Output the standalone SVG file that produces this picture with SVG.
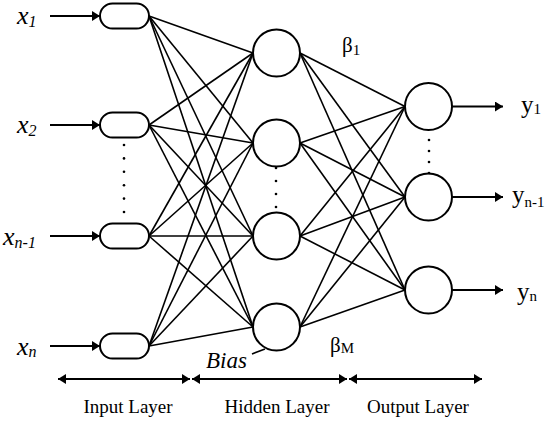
<svg xmlns="http://www.w3.org/2000/svg" width="550" height="421" viewBox="0 0 550 421">
<style>
.node{fill:#fff;stroke:#000;stroke-width:2}
.con line{stroke:#000;stroke-width:1.6}
.arr{stroke:#000;stroke-width:1.8;fill:none}
text{font-family:"Liberation Serif","Times New Roman",Times,serif;fill:#000}
.xl{font-style:italic;font-size:26px}
.xs{font-size:16px}
.yl{font-size:25px}
.ys{font-size:15px}
.bl{font-size:21px}
.lay{font-size:19px;text-anchor:middle}
.dot{fill:#000}
</style>
<defs>
<marker id="ah" viewBox="0 0 8 10" refX="8" refY="5" markerWidth="8" markerHeight="10" markerUnits="userSpaceOnUse" orient="auto-start-reverse">
<path d="M0,0 L8,5 L0,10 z" fill="#000"/>
</marker>
</defs>
<g id="connectors" class="con">
<line x1="149" y1="16" x2="253" y2="53"/><line x1="149" y1="16" x2="253" y2="143"/><line x1="149" y1="16" x2="253" y2="236"/><line x1="149" y1="16" x2="253" y2="327"/>
<line x1="149" y1="125" x2="253" y2="53"/><line x1="149" y1="125" x2="253" y2="143"/><line x1="149" y1="125" x2="253" y2="236"/><line x1="149" y1="125" x2="253" y2="327"/>
<line x1="149" y1="236" x2="253" y2="53"/><line x1="149" y1="236" x2="253" y2="143"/><line x1="149" y1="236" x2="253" y2="236"/><line x1="149" y1="236" x2="253" y2="327"/>
<line x1="149" y1="346" x2="253" y2="53"/><line x1="149" y1="346" x2="253" y2="143"/><line x1="149" y1="346" x2="253" y2="236"/><line x1="149" y1="346" x2="253" y2="327"/>
<line x1="300" y1="53" x2="405" y2="106.5"/><line x1="300" y1="53" x2="405" y2="197"/><line x1="300" y1="53" x2="405" y2="290"/>
<line x1="300" y1="143" x2="405" y2="106.5"/><line x1="300" y1="143" x2="405" y2="197"/><line x1="300" y1="143" x2="405" y2="290"/>
<line x1="300" y1="236" x2="405" y2="106.5"/><line x1="300" y1="236" x2="405" y2="197"/><line x1="300" y1="236" x2="405" y2="290"/>
<line x1="300" y1="327" x2="405" y2="106.5"/><line x1="300" y1="327" x2="405" y2="197"/><line x1="300" y1="327" x2="405" y2="290"/>
<line x1="252" y1="354" x2="265" y2="349"/>
</g>
<g id="arrows">
<line class="arr" x1="50" y1="16" x2="100" y2="16" marker-end="url(#ah)"/>
<line class="arr" x1="50" y1="125" x2="100" y2="125" marker-end="url(#ah)"/>
<line class="arr" x1="50" y1="236" x2="100" y2="236" marker-end="url(#ah)"/>
<line class="arr" x1="50" y1="346" x2="100" y2="346" marker-end="url(#ah)"/>
<line class="arr" x1="452" y1="106.5" x2="503" y2="106.5" marker-end="url(#ah)"/>
<line class="arr" x1="452" y1="197" x2="503" y2="197" marker-end="url(#ah)"/>
<line class="arr" x1="452" y1="290" x2="503" y2="290" marker-end="url(#ah)"/>
<line class="arr" x1="58" y1="379" x2="190" y2="379" marker-start="url(#ah)" marker-end="url(#ah)"/>
<line class="arr" x1="192" y1="379" x2="347" y2="379" marker-start="url(#ah)" marker-end="url(#ah)"/>
<line class="arr" x1="349" y1="379" x2="482" y2="379" marker-start="url(#ah)" marker-end="url(#ah)"/>
</g>
<g id="in1"><rect class="node" x="100" y="3.5" width="49" height="25" rx="12.5"/></g>
<g id="in2"><rect class="node" x="100" y="112.5" width="49" height="25" rx="12.5"/></g>
<g id="in3"><rect class="node" x="100" y="223.5" width="49" height="25" rx="12.5"/></g>
<g id="in4"><rect class="node" x="100" y="333.5" width="49" height="25" rx="12.5"/></g>
<g id="h1"><circle class="node" cx="276.5" cy="53" r="23.5"/></g>
<g id="h2"><circle class="node" cx="276.5" cy="143" r="23.5"/></g>
<g id="h3"><circle class="node" cx="276.5" cy="236" r="23.5"/></g>
<g id="h4"><circle class="node" cx="276.5" cy="327" r="23.5"/></g>
<g id="o1"><circle class="node" cx="428.5" cy="106.5" r="23.5"/></g>
<g id="o2"><circle class="node" cx="428.5" cy="197" r="23.5"/></g>
<g id="o3"><circle class="node" cx="428.5" cy="290" r="23.5"/></g>
<g id="dots">
<circle class="dot" cx="124" cy="145" r="1.3"/><circle class="dot" cx="124" cy="158.4" r="1.3"/><circle class="dot" cx="124" cy="171.8" r="1.3"/><circle class="dot" cx="124" cy="185.2" r="1.3"/><circle class="dot" cx="124" cy="198.6" r="1.3"/><circle class="dot" cx="124" cy="212" r="1.3"/>
<circle class="dot" cx="276" cy="168" r="1.3"/><circle class="dot" cx="276" cy="181" r="1.3"/><circle class="dot" cx="276" cy="194" r="1.3"/><circle class="dot" cx="276" cy="207" r="1.3"/>
<circle class="dot" cx="429" cy="140" r="1.3"/><circle class="dot" cx="429" cy="151" r="1.3"/><circle class="dot" cx="429" cy="162" r="1.3"/><circle class="dot" cx="429" cy="173" r="1.3"/>
</g>
<g id="labels">
<text class="xl" x="17" y="24">x<tspan class="xs" dy="3">1</tspan></text>
<text class="xl" x="17" y="133">x<tspan class="xs" dy="3">2</tspan></text>
<text class="xl" x="3" y="245">x<tspan class="xs" dy="3">n-1</tspan></text>
<text class="xl" x="17" y="355">x<tspan class="xs" dy="2">n</tspan></text>
<text class="yl" x="521" y="113">y<tspan class="ys" dy="1">1</tspan></text>
<text class="yl" x="512" y="203">y<tspan class="ys" dy="4">n-1</tspan></text>
<text class="yl" x="517" y="300">y<tspan class="ys" dy="1">n</tspan></text>
<text class="bl" x="342" y="52">β<tspan class="ys" dy="3">1</tspan></text>
<text class="bl" x="330" y="352">β<tspan class="ys" dy="1">M</tspan></text>
<text class="xl" x="206" y="368" style="font-size:23px">Bias</text>
<text class="lay" x="128" y="413">Input Layer</text>
<text class="lay" x="277" y="413">Hidden Layer</text>
<text class="lay" x="418" y="413">Output Layer</text>
</g>
</svg>
